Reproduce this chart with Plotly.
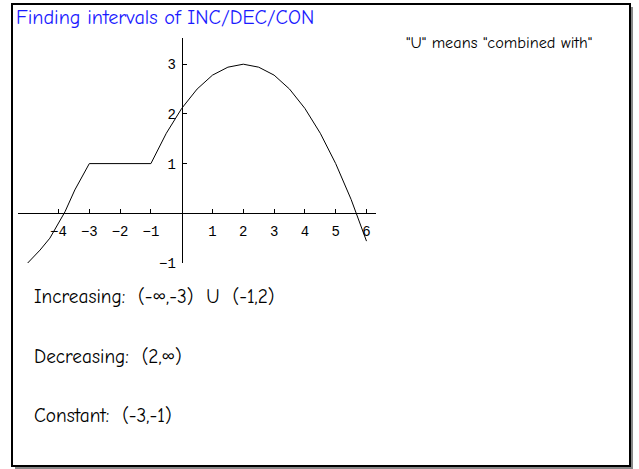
import plotly.graph_objects as go

W, H = 639, 469

# curve points
curve_x = [-5.0, -4.6, -4.28, -4.0, -3.79, -3.47, -3.19, -3.0,
           -1.0, -0.5, 0.0, 0.5, 1.0, 1.5, 2.0, 2.5, 3.0, 3.5, 4.0, 4.5, 5.0, 5.5, 6.0]
curve_y = [-1.0, -0.74, -0.5, -0.2, 0.03, 0.47, 0.77, 1.0,
           1.0, 1.61, 2.11, 2.5, 2.78, 2.94, 3.0, 2.94, 2.78, 2.5, 2.11, 1.61, 1.0, 0.28, -0.56]

x_ticks = [-4, -3, -2, -1, 1, 2, 3, 4, 5, 6]
y_ticks = [-1, 1, 2, 3]

title_text = "Finding intervals of INC/DEC/CON"
note_text = '"U" means "combined with"'
lines_text = ["Increasing:  (-∞,-3)  U  (-1,2)", "Decreasing:  (2,∞)", "Constant:  (-3,-1)"]
lines_y = [297, 357, 416]


def px(x):
    return x / W


def py(y):
    return (H - y) / H


# screen-pixel geometry of the axes
x0px, xpu = 181.7, 30.8
y0px, ypu = 213.3, 49.7
xl, xr = 18, 376
yt, yb = 38, 263

xrange_ = [(xl - x0px) / xpu, (xr - x0px) / xpu]
yrange_ = [(y0px - yb) / ypu, (y0px - yt) / ypu]

fig = go.Figure()
fig.add_trace(go.Scatter(x=curve_x, y=curve_y, mode="lines",
                         line=dict(color="black", width=1), cliponaxis=False,
                         hoverinfo="skip", showlegend=False))


def lab(v):
    return ("−%d" % -v) if v < 0 else str(v)


tickfont = dict(family="Liberation Mono, DejaVu Sans Mono, monospace", size=14, color="black")
fig.update_layout(
    width=W, height=H, margin=dict(l=0, r=0, t=0, b=0, pad=0), autosize=False,
    paper_bgcolor="white", plot_bgcolor="rgba(0,0,0,0)",
    xaxis=dict(domain=[px(xl), px(xr)], range=xrange_, anchor="free", automargin=False,
               position=py(y0px), showgrid=False, zeroline=False,
               showline=True, linecolor="black", linewidth=1,
               ticks="inside", ticklen=4, tickcolor="black", tickwidth=1,
               tickvals=x_ticks, ticktext=[lab(v) for v in x_ticks],
               tickfont=tickfont, ticklabelstandoff=5),
    yaxis=dict(domain=[py(yb), py(yt)], range=yrange_, anchor="free", automargin=False,
               position=px(x0px), showgrid=False, zeroline=False,
               showline=True, linecolor="black", linewidth=1,
               ticks="inside", ticklen=4, tickcolor="black", tickwidth=1,
               tickvals=y_ticks, ticktext=[lab(v) for v in y_ticks],
               tickfont=tickfont, ticklabelstandoff=3),
)

# frame with shadow
fig.add_shape(type="rect", xref="paper", yref="paper", layer="below",
              x0=px(15), x1=px(633), y0=py(469), y1=py(7),
              fillcolor="#888888", line=dict(width=0))
fig.add_shape(type="rect", xref="paper", yref="paper", layer="below",
              x0=px(12), x1=px(630), y0=py(466), y1=py(4),
              fillcolor="white", line=dict(color="black", width=2))

txtfont = "Comic Sans MS, Comic Neue, Open Sans, sans-serif"
fig.add_annotation(text=title_text, xref="paper", yref="paper",
                   x=px(14), y=py(18), xanchor="left", yanchor="middle",
                   showarrow=False, font=dict(family=txtfont, size=20.2, color="#1a1aff"))
fig.add_annotation(text=note_text, xref="paper", yref="paper",
                   x=px(404), y=py(42), xanchor="left", yanchor="middle",
                   showarrow=False, font=dict(family=txtfont, size=16.3, color="black"))
for t, yy in zip(lines_text, lines_y):
    fig.add_annotation(text=t, xref="paper", yref="paper",
                       x=px(32), y=py(yy), xanchor="left", yanchor="middle",
                       showarrow=False, font=dict(family=txtfont, size=19.3, color="black"))

post = "document.documentElement.style.margin='0';document.body.style.margin='0';"
fig.write_html("out.html", post_script=post, config={"displayModeBar": False})
